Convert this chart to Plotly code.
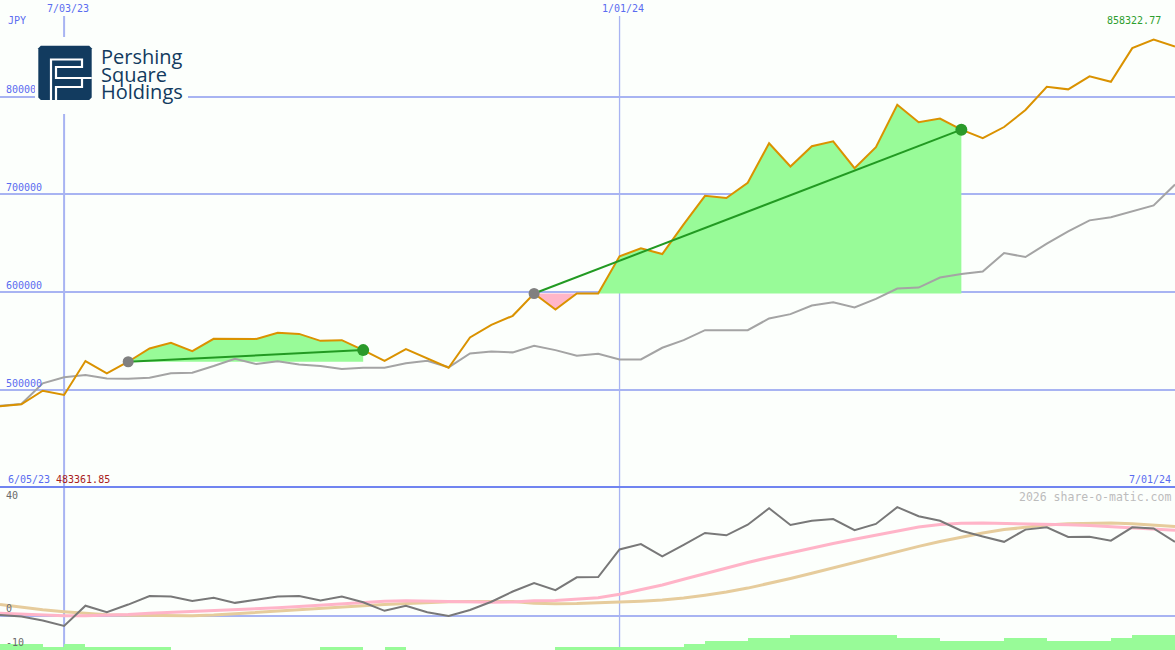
import plotly.graph_objects as go
import pandas as pd

# ---------------- data ----------------
dates = pd.date_range("2023-06-12", periods=56, freq="7D")

price = [483361.85, 485400, 499300, 494900, 529600, 517000, 528900, 542500, 548300, 539800,
         552400, 552400, 552300, 558500, 557400, 550300, 551000, 540800, 529900, 541800,
         532300, 522800, 553800, 566700, 575900, 598700, 582300, 598700, 598700, 636700,
         644900, 639100, 669400, 698600, 696300, 711900, 752400, 728600, 749300, 754400,
         726900, 748300, 791800, 773800, 777600, 766300, 757500, 769000, 786400, 810200,
         807500, 820800, 815300, 849700, 858322.77, 851300]

bench = [484000, 485700, 506800, 513000, 515300, 511900, 511500, 512600, 517100, 517700,
         524500, 532000, 526500, 529300, 526200, 524500, 521400, 522800, 522800, 527300,
         529900, 523200, 537400, 539500, 538500, 545200, 540800, 535000, 537000, 531300,
         531300, 543200, 551000, 561200, 561200, 561200, 573200, 577600, 586400, 589800,
         584400, 593200, 603800, 604800, 615000, 618700, 621100, 640100, 636000, 649700,
         662200, 673500, 676800, 682700, 688800, 710200]

osc = [0.35, -0.2, -1.6, -3.5, 3.6, 1.3, 4.0, 7.0, 6.8, 5.3,
       6.4, 4.6, 5.7, 6.8, 7.0, 5.4, 6.8, 4.8, 1.8, 3.6,
       1.3, 0.0, 2.1, 5.0, 8.6, 11.6, 9.1, 13.6, 13.7, 23.4,
       25.3, 21.0, 25.0, 29.2, 28.4, 32.1, 37.9, 32.0, 33.5, 34.1,
       30.2, 32.4, 38.3, 35.1, 33.5, 30.0, 28.0, 26.1, 30.4, 31.2,
       27.8, 27.9, 26.5, 31.2, 30.8, 26.1]

osc_ma1 = [0.9, 0.6, 0.3, 0.1, 0.1, 0.2, 0.5, 0.9, 1.2, 1.5,
           1.8, 2.2, 2.5, 2.9, 3.3, 3.8, 4.4, 4.9, 5.2, 5.3,
           5.2, 4.9, 4.8, 4.8, 4.9, 5.3, 5.4, 5.8, 6.4, 7.6,
           9.2, 10.9, 12.9, 14.9, 16.9, 18.8, 20.6, 22.3, 24.0, 25.5,
           27.0, 28.5, 30.0, 31.3, 32.2, 32.6, 32.7, 32.6, 32.5, 32.4,
           32.1, 31.8, 31.4, 31.0, 30.6, 30.2]

osc_ma2 = [4.0, 3.0, 2.2, 1.5, 1.0, 0.4, 0.2, 0.1, 0.1, 0.1,
           0.3, 0.8, 1.3, 1.8, 2.3, 2.7, 3.2, 3.6, 4.0, 4.4,
           4.8, 5.0, 5.1, 5.2, 5.1, 4.5, 4.3, 4.4, 4.6, 4.8,
           5.2, 5.6, 6.3, 7.3, 8.4, 9.8, 11.4, 13.2, 15.0, 16.9,
           18.9, 20.8, 22.7, 24.5, 26.2, 27.8, 29.2, 30.4, 31.3, 32.0,
           32.5, 32.7, 32.7, 32.5, 32.1, 31.5]

# one level per week interval (between consecutive points)
bar_levels = [2, 2, 1, 2, 1, 1, 1, 1, 0, 0,
              0, 0, 0, 0, 0, 1, 1, 0, 1, 0,
              0, 0, 0, 0, 0, 0, 1, 1, 1, 1,
              1, 1, 2, 3, 3, 4, 4, 5, 5, 5,
              5, 5, 4, 4, 3, 3, 3, 4, 4, 3,
              3, 3, 4, 5, 5]

trades = [(6, 17), (25, 45)]   # (entry index, exit index)

price_ticks = [500000, 600000, 700000, 800000]
osc_ticks = [40, 0]
osc_low_label = "-10"
vline_dates = ["2023-07-03", "2024-01-01"]
logo_words = ["Pershing", "Square", "Holdings"]

# ---------------- style ----------------
W, H = 1175, 650
BG = "#fcfffc"
GRID = "#a8b4f2"
BLUE = "#5a6cf0"
NAVY = "#123b5f"
MONO = "DejaVu Sans Mono"
split = 163 / H


def px(x):
    return x / W


def py(y):
    return 1 - y / H


fig = go.Figure()

# trade fills
for e, x in trades:
    lvl = price[e]
    seg_d = list(dates[e:x + 1])
    seg_p = price[e:x + 1]
    base = [lvl] * len(seg_p)
    fig.add_trace(go.Scatter(x=seg_d, y=base, mode="lines", line=dict(width=0),
                             hoverinfo="skip", showlegend=False, yaxis="y"))
    fig.add_trace(go.Scatter(x=seg_d, y=[max(p, lvl) for p in seg_p], mode="lines",
                             line=dict(width=0), fill="tonexty", fillcolor="#98fb98",
                             hoverinfo="skip", showlegend=False, yaxis="y"))
    fig.add_trace(go.Scatter(x=seg_d, y=base, mode="lines", line=dict(width=0),
                             hoverinfo="skip", showlegend=False, yaxis="y"))
    fig.add_trace(go.Scatter(x=seg_d, y=[min(p, lvl) for p in seg_p], mode="lines",
                             line=dict(width=0), fill="tonexty", fillcolor="#ffb6c8",
                             hoverinfo="skip", showlegend=False, yaxis="y"))

fig.add_trace(go.Scatter(x=dates, y=bench, mode="lines", line=dict(color="#a4a4a4", width=2),
                         showlegend=False, yaxis="y"))
fig.add_trace(go.Scatter(x=dates, y=price, mode="lines", line=dict(color="#da9200", width=2),
                         showlegend=False, yaxis="y"))

for e, x in trades:
    fig.add_trace(go.Scatter(x=[dates[e], dates[x]], y=[price[e], price[x]], mode="lines",
                             line=dict(color="#229a22", width=2), showlegend=False, yaxis="y"))
    fig.add_trace(go.Scatter(x=[dates[e]], y=[price[e]], mode="markers",
                             marker=dict(color="#808080", size=11), showlegend=False, yaxis="y"))
    fig.add_trace(go.Scatter(x=[dates[x]], y=[price[x]], mode="markers",
                             marker=dict(color="#2a9a2a", size=12), showlegend=False, yaxis="y"))

# lower panel
mid = [dates[k] + (dates[k + 1] - dates[k]) / 2 for k in range(len(bar_levels))]
fig.add_trace(go.Bar(x=mid, y=bar_levels, width=7 * 24 * 3600 * 1000,
                     marker=dict(color="#98fb98", line=dict(width=0)),
                     showlegend=False, yaxis="y3"))
fig.add_trace(go.Scatter(x=dates, y=osc_ma2, mode="lines", line=dict(color="#e6cc9c", width=3),
                         showlegend=False, yaxis="y2"))
fig.add_trace(go.Scatter(x=dates, y=osc_ma1, mode="lines", line=dict(color="#ffb4c8", width=3),
                         showlegend=False, yaxis="y2"))
fig.add_trace(go.Scatter(x=dates, y=osc, mode="lines", line=dict(color="#787878", width=2),
                         showlegend=False, yaxis="y2"))

shapes = []
for i, d in enumerate(vline_dates):
    shapes.append(dict(type="line", xref="x", yref="paper", x0=d, x1=d, y0=0, y1=py(16),
                       line=dict(color=GRID, width=2 if i == 0 else 1.3), layer="below"))
shapes.append(dict(type="line", xref="paper", yref="paper", x0=0, x1=1, y0=split, y1=split,
                   line=dict(color="#7084f0", width=2), layer="above"))

# logo
shapes.append(dict(type="rect", xref="paper", yref="paper", x0=px(35), x1=px(188), y0=py(114), y1=py(37),
                   fillcolor=BG, line=dict(width=0), layer="above"))


def path(pts, close=False):
    s = "M " + " L ".join(f"{px(a):.5f},{py(b):.5f}" for a, b in pts)
    return s + (" Z" if close else "")


x0, y0, x1, y1, r = 38.3, 45.7, 91.7, 100.0, 2.5
rr = [(x0 + r, y0), (x1 - r, y0), (x1, y0 + r), (x1, y1 - r), (x1 - r, y1), (x0 + r, y1), (x0, y1 - r), (x0, y0 + r)]
shapes.append(dict(type="path", xref="paper", yref="paper", path=path(rr, True),
                   fillcolor=NAVY, line=dict(width=0), layer="above"))
shapes.append(dict(type="path", xref="paper", yref="paper",
                   path=path([(51, 100), (51, 59.5), (82, 59.5), (82, 67), (56, 67), (56, 78), (91.7, 78)]),
                   line=dict(color="white", width=2.2), layer="above"))
shapes.append(dict(type="path", xref="paper", yref="paper",
                   path=path([(82, 78), (82, 87), (56, 87), (56, 100)]),
                   line=dict(color="white", width=2.2), layer="above"))


def ann(text, x, y, anchor="left", color=BLUE, size=10, family=MONO, yanchor="middle"):
    return dict(text=text, x=px(x), y=py(y), xref="paper", yref="paper", xanchor=anchor, yanchor=yanchor,
                showarrow=False, font=dict(family=family, size=size, color=color), align="left")


logo_text = "<br>".join(f'<span style="font-size:20px">{w}</span>' for w in logo_words)

annotations = [
    ann("JPY", 6, 21),
    ann("7/03/23", 68, 9, "center"),
    ann("1/01/24", 623, 9, "center"),
    ann(f"{max(price):.2f}", 1163, 21, "right", color="#2e9e2e"),
    ann("6/05/23", 6, 479),
    ann(f"{min(price):.2f}", 54, 479, color="#a82020"),
    ann("7/01/24", 1173, 479, "right"),
    ann("2026 share-o-matic.com", 1173, 496.5, "right", color="#bcbcbc", size=11.5),
    ann(osc_low_label, 4, 642, color="#6a6a6a"),
    ann(logo_text, 99, 73.5, family="Open Sans", size=13.5, color=NAVY),
]

fig.update_layout(
    width=W, height=H, margin=dict(l=0, r=0, t=0, b=0),
    paper_bgcolor=BG, plot_bgcolor=BG, showlegend=False, bargap=0,
    xaxis=dict(range=[dates[0], dates[-1]], showgrid=False, zeroline=False, showticklabels=False,
               ticks="", showline=False, anchor="y3"),
    yaxis=dict(domain=[split, 1], range=[400800, 898900], tickvals=price_ticks,
               ticktext=[str(v) for v in price_ticks], showgrid=True, gridcolor=GRID, gridwidth=2,
               zeroline=False, ticks="", ticklabelposition="inside top", ticklabelstandoff=3,
               showline=False, tickfont=dict(family=MONO, size=10, color=BLUE), anchor="x"),
    yaxis3=dict(domain=[0, split], range=[0, 163 / 3], showgrid=False, zeroline=False,
                showticklabels=False, ticks="", anchor="x"),
    yaxis2=dict(domain=[0, split], range=[-12, 45.4], overlaying="y3", tickvals=osc_ticks,
                ticktext=[str(v) for v in osc_ticks], showgrid=False, zeroline=True,
                zerolinecolor=GRID, zerolinewidth=2, ticks="", ticklabelposition="inside top",
                ticklabelstandoff=3, showline=False,
                tickfont=dict(family=MONO, size=10, color="#6a6a6a"), anchor="x"),
    shapes=shapes, annotations=annotations,
)

fig.write_html("out.html", config={"displayModeBar": False},
               post_script="document.body.style.margin='0';")
